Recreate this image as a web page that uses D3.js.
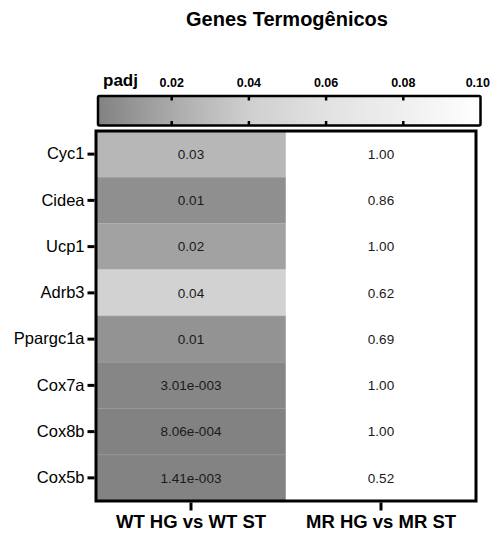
<!DOCTYPE html>
<html>
<head>
<meta charset="utf-8">
<script src="https://cdn.jsdelivr.net/npm/d3@7"></script>
<style>
  body { margin: 0; background: #fff; }
  text { font-family: "Liberation Sans", Arial, sans-serif; }
</style>
</head>
<body>
<div id="chart"></div>
<script>
// data
const genes = ["Cyc1", "Cidea", "Ucp1", "Adrb3", "Ppargc1a", "Cox7a", "Cox8b", "Cox5b"];
const comparisons = ["WT HG vs WT ST", "MR HG vs MR ST"];
const wtValues = [0.027, 0.007, 0.016, 0.043, 0.009, 0.00301, 0.000806, 0.00141];
const mrValues = [1.00, 0.86, 1.00, 0.62, 0.69, 1.00, 1.00, 0.52];
const legendTicks = [0.02, 0.04, 0.06, 0.08, 0.10];

const width = 491, height = 534;

const svg = d3.select("#chart")
  .append("svg")
  .attr("width", width)
  .attr("height", height);

// title
svg.append("text")
  .attr("x", 287)
  .attr("y", 26)
  .attr("text-anchor", "middle")
  .style("font-size", "20px")
  .style("font-weight", "bold")
  .text("Genes Termogênicos");

// colour scale (gray -> white, clamped above 0.1)
const color = d3.scaleLinear()
  .domain([0, 0.02, 0.04, 0.06, 0.08, 0.1])
  .range(["#808080", "#aaaaaa", "#cfcfcf", "#e2e2e2", "#efefef", "#ffffff"])
  .clamp(true);

// ---- legend bar ----
const lx = d3.scaleLinear().domain([0, 0.1]).range([94.5, 480.5]);
const barTop = 96, barBottom = 125.5, barLeft = 98;

const defs = svg.append("defs");
const grad = defs.append("linearGradient")
  .attr("id", "padjGrad")
  .attr("gradientUnits", "userSpaceOnUse")
  .attr("x1", barLeft).attr("x2", lx(0.1))
  .attr("y1", 0).attr("y2", 0);
d3.range(0, 21).forEach(i => {
  const xPos = barLeft + (lx(0.1) - barLeft) * i / 20;
  grad.append("stop")
    .attr("offset", (i / 20 * 100) + "%")
    .attr("stop-color", color(lx.invert(xPos)));
});

svg.append("rect")
  .attr("x", barLeft)
  .attr("y", barTop)
  .attr("width", lx(0.1) - barLeft)
  .attr("height", barBottom - barTop)
  .attr("rx", 1.5)
  .attr("fill", "url(#padjGrad)")
  .attr("stroke", "#000")
  .attr("stroke-width", 2.5);

// little tick marks inside the bar
const inner = legendTicks.slice(0, 4);
svg.append("g").selectAll("line.tt")
  .data(inner).enter()
  .append("line")
  .attr("x1", d => lx(d)).attr("x2", d => lx(d))
  .attr("y1", barTop).attr("y2", barTop + 4.5)
  .attr("stroke", "#000").attr("stroke-width", 2.5);
svg.append("g").selectAll("line.tb")
  .data(inner).enter()
  .append("line")
  .attr("x1", d => lx(d)).attr("x2", d => lx(d))
  .attr("y1", barBottom - 4.5).attr("y2", barBottom)
  .attr("stroke", "#000").attr("stroke-width", 2.5);

// tick labels; the last one is pulled in so it stays inside the page
svg.append("g").selectAll("text")
  .data(legendTicks).enter()
  .append("text")
  .attr("x", (d, i) => i === legendTicks.length - 1 ? width - 1 : lx(d))
  .attr("y", 87)
  .attr("text-anchor", (d, i) => i === legendTicks.length - 1 ? "end" : "middle")
  .style("font-size", "12.5px")
  .style("font-weight", "bold")
  .text(d => d.toFixed(2));

svg.append("text")
  .attr("x", 103)
  .attr("y", 86)
  .style("font-size", "17px")
  .style("font-weight", "bold")
  .text("padj");

// ---- heatmap ----
const plotLeft = 96, plotRight = 476, plotTop = 131, plotBottom = 501;

const x = d3.scaleBand().domain(comparisons).range([plotLeft, plotRight]);
const y = d3.scaleBand().domain(genes).range([plotTop, plotBottom]);

const cells = [];
genes.forEach((g, i) => {
  cells.push({ gene: g, comp: comparisons[0], value: wtValues[i] });
  cells.push({ gene: g, comp: comparisons[1], value: mrValues[i] });
});

function fmt(v) {
  if (v >= 0.005) return v.toFixed(2);
  const parts = v.toExponential(2).split("e");
  const exp = parseInt(parts[1]);
  const sign = exp < 0 ? "-" : "+";
  return parts[0] + "e" + sign + String(Math.abs(exp)).padStart(3, "0");
}

svg.append("g").selectAll("rect")
  .data(cells).enter()
  .append("rect")
  .attr("x", d => x(d.comp))
  .attr("y", d => y(d.gene))
  .attr("width", x.bandwidth())
  .attr("height", y.bandwidth())
  .attr("fill", d => color(d.value))
  .attr("stroke", d => color(d.value))
  .attr("stroke-width", 0.5);

// faint row separators in first column
svg.append("g").selectAll("line")
  .data(genes.slice(1)).enter()
  .append("line")
  .attr("x1", x(comparisons[0]))
  .attr("x2", x(comparisons[0]) + x.bandwidth())
  .attr("y1", d => y(d)).attr("y2", d => y(d))
  .attr("stroke", "#ffffff")
  .attr("stroke-opacity", 0.12)
  .attr("stroke-width", 1);

svg.append("g").selectAll("text")
  .data(cells).enter()
  .append("text")
  .attr("x", d => x(d.comp) + x.bandwidth() / 2)
  .attr("y", d => y(d.gene) + y.bandwidth() / 2)
  .attr("dy", "0.35em")
  .attr("text-anchor", "middle")
  .style("font-size", "13.5px")
  .style("fill", "#1a1a1a")
  .text(d => fmt(d.value));

// frame
svg.append("rect")
  .attr("x", plotLeft)
  .attr("y", plotTop)
  .attr("width", plotRight - plotLeft)
  .attr("height", plotBottom - plotTop)
  .attr("fill", "none")
  .attr("stroke", "#000")
  .attr("stroke-width", 3);

// y axis
const yAxis = svg.append("g")
  .attr("transform", "translate(" + (plotLeft - 1.5) + ",0)")
  .call(d3.axisLeft(y).tickSize(7).tickPadding(3));
yAxis.select(".domain").remove();
yAxis.selectAll(".tick line").attr("stroke", "#000").attr("stroke-width", 3);
yAxis.selectAll(".tick text")
  .style("font-size", "16.5px")
  .style("font-family", "'Liberation Sans', Arial, sans-serif")
  .attr("fill", "#000");

// x axis
const xAxis = svg.append("g")
  .attr("transform", "translate(0," + (plotBottom + 1.5) + ")")
  .call(d3.axisBottom(x).tickSize(8).tickPadding(4));
xAxis.select(".domain").remove();
xAxis.selectAll(".tick line").attr("stroke", "#000").attr("stroke-width", 3);
xAxis.selectAll(".tick text")
  .style("font-size", "18.5px")
  .style("font-weight", "bold")
  .style("font-family", "'Liberation Sans', Arial, sans-serif")
  .attr("fill", "#000");
</script>
</body>
</html>
